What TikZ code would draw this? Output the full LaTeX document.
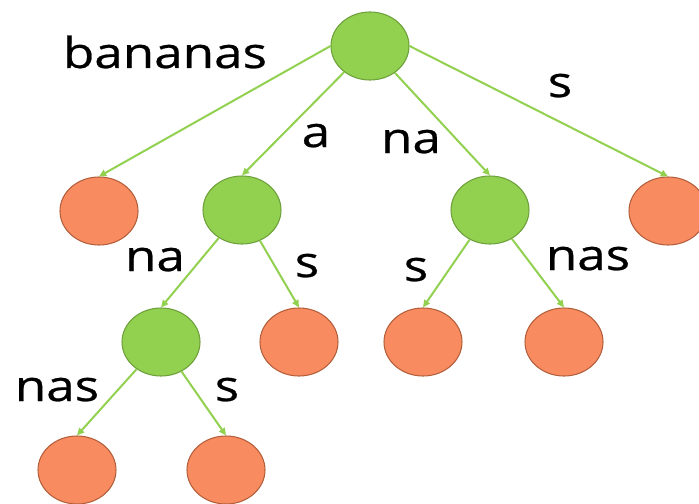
\documentclass[tikz,border=0pt]{standalone}
\usepackage{fontspec}
\setmainfont{Open Sans}[FakeStretch=1.2,FakeBold=0.6]
\usepackage{xcolor}
\usepackage{tikz}
\usetikzlibrary{shapes,arrows.meta,calc}
\definecolor{leafgreen}{RGB}{146,208,80}
\definecolor{leafgreendark}{RGB}{110,160,60}
\definecolor{salmon}{RGB}{249,139,96}
\definecolor{salmondark}{RGB}{180,95,60}
\tikzset{
  inner/.style={ellipse,draw=leafgreendark,fill=leafgreen,line width=0.8pt,minimum width=58.5pt,minimum height=51pt,inner sep=0pt},
  leaf/.style={ellipse,draw=salmondark,fill=salmon,line width=0.8pt,minimum width=58.5pt,minimum height=51pt,inner sep=0pt},
  edge/.style={draw=leafgreen,line width=1.5pt,-{Triangle[length=5.5pt,width=5pt]}},
  lbl/.style={anchor=base,inner sep=0pt,font=\fontsize{32}{38}\selectfont}
}
\begin{document}
\begin{tikzpicture}[x=0.75pt,y=0.75pt,yscale=-1,xscale=1]
\useasboundingbox (0,0) rectangle (699,503);

%Shape: Ellipse [id:root]
\node[inner] (root) at (370,46) {};
%Shape: Ellipse [id:level one]
\node[leaf] (bananas) at (99,211) {};
\node[inner] (a) at (242,210) {};
\node[inner] (na) at (490,210) {};
\node[leaf] (s) at (668,211) {};
%Shape: Ellipse [id:level two]
\node[inner] (ana) at (161,342) {};
\node[leaf] (as) at (299,342) {};
\node[leaf] (nas) at (423,342) {};
\node[leaf] (nanas) at (564,342) {};
%Shape: Ellipse [id:level three]
\node[leaf] (anana) at (77,470) {};
\node[leaf] (anas) at (226,470) {};

%Straight Lines [id:edges]
\draw[edge] (root.west) -- (bananas.north);
\draw[edge] (root) -- (a.north);
\draw[edge] (root) -- (na.north);
\draw[edge] (root.east) -- (s.north);
\draw[edge] (a) -- (ana.north);
\draw[edge] (a) -- (as.north);
\draw[edge] (na) -- (nas.north);
\draw[edge] (na) -- (nanas.north);
\draw[edge] (ana) -- (anana.north);
\draw[edge] (ana) -- (anas.north);

% Text Node
\node[lbl] (lbananas) at (165,68) {bananas};
\node[lbl] (la) at (316,147) {a};
\node[lbl] (lna) at (411,153) {na};
\node[lbl] (ls) at (560,97) {s};
\node[lbl] (lana) at (155,271) {na};
\node[lbl] (las) at (307,277) {s};
\node[lbl] (lnas) at (416,281) {s};
\node[lbl] (lnanas) at (588,270) {nas};
\node[lbl] (lanana) at (57,401) {nas};
\node[lbl] (lanas) at (227,401) {s};

\end{tikzpicture}
\end{document}
